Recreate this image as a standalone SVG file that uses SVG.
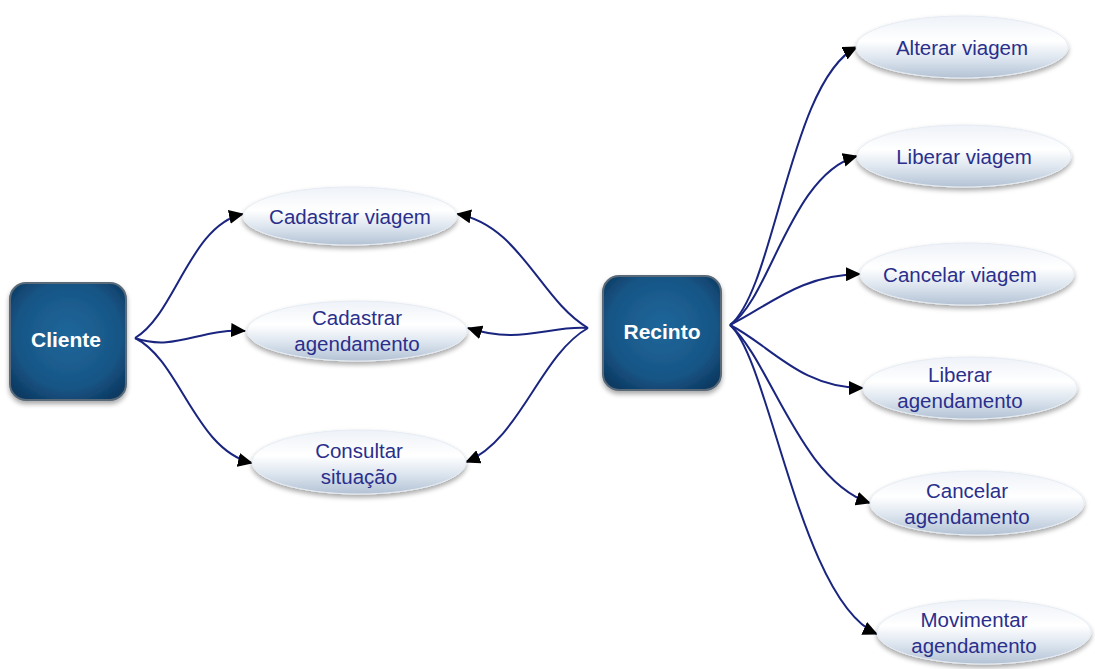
<svg xmlns="http://www.w3.org/2000/svg" width="1095" height="669" viewBox="0 0 1095 669">
<defs>
<radialGradient id="boxg" cx="50%" cy="45%" r="65%">
<stop offset="0" stop-color="#1f679b"/>
<stop offset="0.7" stop-color="#175585"/>
<stop offset="1" stop-color="#0d3a62"/>
</radialGradient>
<linearGradient id="ellg" x1="0" y1="0" x2="0" y2="1">
<stop offset="0" stop-color="#eef2f8"/>
<stop offset="0.4" stop-color="#ffffff"/>
<stop offset="0.7" stop-color="#dbe4ee"/>
<stop offset="1" stop-color="#b3c2d4"/>
</linearGradient>
<filter id="sh" x="-20%" y="-20%" width="140%" height="150%">
<feGaussianBlur in="SourceAlpha" stdDeviation="2.5"/>
<feOffset dx="0" dy="3"/>
<feComponentTransfer><feFuncA type="linear" slope="0.35"/></feComponentTransfer>
<feMerge><feMergeNode/><feMergeNode in="SourceGraphic"/></feMerge>
</filter>
<marker id="arr" viewBox="0 0 15 14" refX="14" refY="7" markerWidth="15" markerHeight="14" markerUnits="userSpaceOnUse" orient="auto">
<path d="M0,0 L15,7 L0,14 Z" fill="#000"/>
</marker>
</defs>
<style>
.box{fill:url(#boxg);stroke:#5a6a78;stroke-width:2;filter:url(#sh)}
.bt{font-family:"Liberation Sans",Arial,sans-serif;font-size:21px;font-weight:bold;fill:#ffffff;text-anchor:middle}
.ell{fill:url(#ellg);stroke:#e6ecf3;stroke-width:1;filter:url(#sh)}
.et{font-family:"Liberation Sans",Arial,sans-serif;font-size:20.5px;fill:#2a2f8c;text-anchor:middle}
.c{fill:none;stroke:#1a2580;stroke-width:2;marker-end:url(#arr)}
</style>
<rect width="1095" height="669" fill="#ffffff"/>
<g id="connectors">
<path class="c" d="M135,338 C175,315 190,225 243,214"/>
<path class="c" d="M135,338 C175,352 200,328 245,331"/>
<path class="c" d="M135,338 C180,360 195,450 252,463"/>
<path class="c" d="M588,328 C540,300 520,225 457,214"/>
<path class="c" d="M588,328 C550,325 520,345 468,328"/>
<path class="c" d="M588,328 C540,355 520,440 466,462"/>
<path class="c" d="M730,325 C775,290 790,80 857,47"/>
<path class="c" d="M730,325 C770,300 790,175 857,156"/>
<path class="c" d="M730,325 C770,305 800,275 860,274"/>
<path class="c" d="M730,325 C770,345 800,388 863,388"/>
<path class="c" d="M730,325 C770,360 800,480 870,503"/>
<path class="c" d="M730,325 C770,360 800,600 877,634"/>
</g>
<g id="cliente">
<rect class="box" x="10" y="283" width="116" height="117" rx="16"/>
<text class="bt" x="66" y="347">Cliente</text>
</g>
<g id="recinto">
<rect class="box" x="603" y="276" width="118" height="114" rx="16"/>
<text class="bt" x="662" y="339">Recinto</text>
</g>
<g id="cadastrar-viagem">
<ellipse class="ell" cx="350" cy="216" rx="107" ry="29"/>
<text class="et" x="350" y="224">Cadastrar viagem</text>
</g>
<g id="cadastrar-agendamento">
<ellipse class="ell" cx="357" cy="331" rx="110" ry="30"/>
<text class="et" x="357" y="325">Cadastrar</text>
<text class="et" x="357" y="351">agendamento</text>
</g>
<g id="consultar-situacao">
<ellipse class="ell" cx="359" cy="462" rx="107" ry="32"/>
<text class="et" x="359" y="458">Consultar</text>
<text class="et" x="359" y="484">situação</text>
</g>
<g id="alterar-viagem">
<ellipse class="ell" cx="962" cy="47" rx="106" ry="31"/>
<text class="et" x="962" y="55">Alterar viagem</text>
</g>
<g id="liberar-viagem">
<ellipse class="ell" cx="964" cy="156" rx="107" ry="31"/>
<text class="et" x="964" y="164">Liberar viagem</text>
</g>
<g id="cancelar-viagem">
<ellipse class="ell" cx="967" cy="274" rx="107" ry="31"/>
<text class="et" x="960" y="282">Cancelar viagem</text>
</g>
<g id="liberar-agendamento">
<ellipse class="ell" cx="970" cy="388" rx="107" ry="31"/>
<text class="et" x="960" y="382">Liberar</text>
<text class="et" x="960" y="408">agendamento</text>
</g>
<g id="cancelar-agendamento">
<ellipse class="ell" cx="977" cy="503" rx="107" ry="32"/>
<text class="et" x="967" y="498">Cancelar</text>
<text class="et" x="967" y="524">agendamento</text>
</g>
<g id="movimentar-agendamento">
<ellipse class="ell" cx="984" cy="632" rx="107" ry="32"/>
<text class="et" x="974" y="627">Movimentar</text>
<text class="et" x="974" y="653">agendamento</text>
</g>
</svg>
